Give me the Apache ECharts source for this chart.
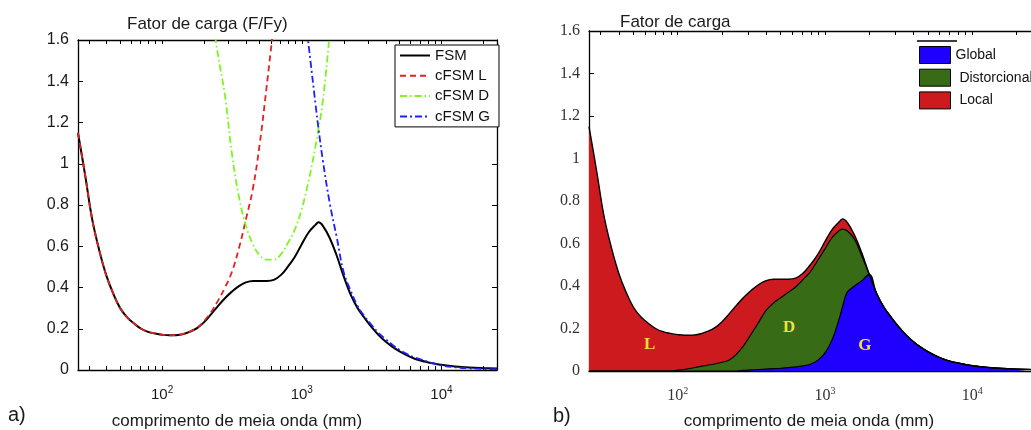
<!DOCTYPE html>
<html>
<head>
<meta charset="utf-8">
<script src="https://cdn.jsdelivr.net/npm/echarts@6/dist/echarts.min.js"></script>
<style>
  html, body { margin: 0; padding: 0; background: #fff; }
  #main { width: 1031px; height: 430px; }
</style>
</head>
<body>
<div id="main"></div>
<script>
// Half-wavelength (mm), log-spaced sample points
const halfWave = [25, 28.2, 31.6, 35.5, 39.8, 44.7, 50.1, 56.2, 63.1, 70.8, 79.4, 89.1,
  100, 112, 126, 141, 158, 178, 200, 224, 251, 282, 316, 355, 398, 447, 501, 562, 631, 708, 794, 891,
  1000, 1122, 1259, 1318, 1413, 1585, 1778, 1995, 2239, 2512, 2818, 3162, 3548, 3981, 4467, 5012, 5623, 6310, 7079, 7943, 8913,
  10000, 12589, 15849, 19953, 25000];

// FSM signature curve, load factor F/Fy
const fsm = [1.15, 0.94, 0.73, 0.58, 0.46, 0.37, 0.30, 0.255, 0.225, 0.20, 0.185, 0.177,
  0.171, 0.168, 0.169, 0.174, 0.186, 0.203, 0.232, 0.27, 0.31, 0.348, 0.38, 0.407, 0.425, 0.432, 0.432, 0.432, 0.437, 0.46, 0.50, 0.548,
  0.61, 0.668, 0.705, 0.716, 0.70, 0.64, 0.555, 0.455, 0.365, 0.30, 0.252, 0.208, 0.17, 0.138, 0.112, 0.09, 0.072, 0.057, 0.046, 0.038, 0.031,
  0.025, 0.017, 0.012, 0.009, 0.007];

// cFSM pure local mode
const cfsmL = [1.15, 0.94, 0.73, 0.58, 0.46, 0.37, 0.30, 0.255, 0.225, 0.20, 0.185, 0.177,
  0.171, 0.168, 0.169, 0.174, 0.186, 0.205, 0.238, 0.28, 0.335, 0.40, 0.475, 0.59, 0.73, 0.88, 1.10, 1.38, 1.68, null, null, null,
  null, null, null, null, null, null, null, null, null, null, null, null, null, null, null, null, null, null, null, null, null,
  null, null, null, null, null];

// cFSM pure distortional mode
const cfsmD = [null, null, null, null, null, null, null, null, null, null, null, null,
  null, null, null, null, null, null, null, 1.76, 1.53, 1.33, 1.05, 0.84, 0.70, 0.61, 0.555, 0.535, 0.535, 0.56, 0.615, 0.68,
  0.78, 0.92, 1.09, 1.17, 1.30, 1.63, 2.0, null, null, null, null, null, null, null, null, null, null, null, null, null, null,
  null, null, null, null, null];

// cFSM pure global mode
const cfsmG = [null, null, null, null, null, null, null, null, null, null, null, null,
  null, null, null, null, null, null, null, null, null, null, null, null, null, null, null, null, null, null, null, null,
  1.86, 1.57, 1.28, 1.17, 1.02, 0.81, 0.645, 0.475, 0.385, 0.31, 0.26, 0.218, 0.18, 0.15, 0.122, 0.097, 0.079, 0.063, 0.052, 0.04, 0.03,
  0.022, 0.013, 0.008, 0.005, 0.004];

// Modal participation: upper edge of the distortional band (global + distortional)
const distTop = [0, 0, 0, 0, 0, 0, 0, 0, 0, 0, 0, 0,
  0.004, 0.008, 0.014, 0.021, 0.027, 0.033, 0.041, 0.052, 0.08, 0.122, 0.175, 0.23, 0.285, 0.32, 0.345, 0.37, 0.395, 0.43, 0.467, 0.52,
  0.575, 0.63, 0.662, 0.668, 0.66, 0.62, 0.54, 0.455, 0.365, 0.30, 0.252, 0.208, 0.17, 0.138, 0.112, 0.09, 0.072, 0.057, 0.046, 0.038, 0.031,
  0.025, 0.017, 0.012, 0.009, 0.007];

// Modal participation: upper edge of the global band
const globalTop = [0, 0, 0, 0, 0, 0, 0, 0, 0, 0, 0, 0,
  0, 0, 0, 0, 0, 0, 0, 0, 0, 0.003, 0.005, 0.007, 0.009, 0.011, 0.013, 0.016, 0.019, 0.024, 0.032, 0.05,
  0.085, 0.15, 0.255, 0.305, 0.37, 0.40, 0.425, 0.455, 0.365, 0.30, 0.252, 0.208, 0.17, 0.138, 0.112, 0.09, 0.072, 0.057, 0.046, 0.038, 0.031,
  0.025, 0.017, 0.012, 0.009, 0.007];

// Axis ticks (log decades with intermediate marks) and labelled decades
const tickValues = [30, 40, 50, 60, 70, 80, 90, 100, 200, 300, 400, 500, 600, 700, 800, 900,
  1000, 2000, 3000, 4000, 5000, 6000, 7000, 8000, 9000, 10000, 20000];
const decadeLabels = [100, 1000, 10000];

const legendModes = ['FSM', 'cFSM L', 'cFSM D', 'cFSM G'];
const legendAreas = ['Global', 'Distorcional', 'Local'];

const SANS = '"Liberation Sans", Arial, sans-serif';
const SERIF = '"Liberation Serif", "Times New Roman", serif';

function pairs(vals) {
  const out = [];
  halfWave.forEach((x, i) => { if (vals[i] != null) out.push([x, vals[i]]); });
  return out;
}

function powerLabel(v) {
  return '10{s|' + Math.round(Math.log10(v)) + '}';
}

function xAxisDef(grid, pos, withLabels, withTicks, font, color, size, margin) {
  return {
    type: 'log', logBase: 10, gridIndex: grid, position: pos,
    min: 25, max: 25000,
    axisLine: { show: true, onZero: false, lineStyle: { color: '#000', width: 1.3 } },
    axisTick: { show: withTicks, inside: true, length: 4, customValues: tickValues, lineStyle: { color: '#000', width: 1 } },
    minorTick: { show: false },
    splitLine: { show: false },
    axisLabel: withLabels ? {
      show: true, customValues: decadeLabels, margin: margin,
      fontFamily: font, fontSize: size, color: color,
      formatter: powerLabel,
      rich: { s: { fontFamily: font, fontSize: 10, color: color, padding: [0, 0, 10, 0] } }
    } : { show: false }
  };
}

function yAxisDef(grid, pos, withLabels, font, color) {
  return {
    type: 'value', gridIndex: grid, position: pos,
    min: 0, max: 1.6, interval: 0.2,
    axisLine: { show: true, onZero: false, lineStyle: { color: '#000', width: 1.3 } },
    axisTick: { show: true, inside: true, length: 5, lineStyle: { color: '#000', width: 1 } },
    splitLine: { show: false },
    axisLabel: withLabels ? {
      show: true, fontFamily: font, fontSize: 16, color: color, margin: 9,
      formatter: v => (Math.abs(v) < 1e-9 ? '0' : Math.abs(v - 1) < 1e-9 ? '1' : v.toFixed(1))
    } : { show: false }
  };
}

const chart = echarts.init(document.getElementById('main'), null, { renderer: 'canvas' });

const areaLetter = (txt, x, y) => ({
  symbol: 'circle', symbolSize: 0, silent: true,
  data: [{ coord: [x, y], value: txt }],
  label: {
    show: true, position: 'inside', formatter: txt,
    fontFamily: SERIF, fontWeight: 'bold', fontSize: 17, color: '#f0e23a'
  }
});

chart.setOption({
  animation: false,
  backgroundColor: '#fff',
  title: [
    { text: 'Fator de carga (F/Fy)', left: 122, top: 11,
      textStyle: { fontFamily: SANS, fontSize: 17, fontWeight: 'normal', color: '#1a1a1a' } },
    { text: 'Fator de carga', left: 615, top: 9,
      textStyle: { fontFamily: SANS, fontSize: 17, fontWeight: 'normal', color: '#1a1a1a' } }
  ],
  grid: [
    { left: 78, top: 40, width: 419, height: 330 },
    { left: 589, top: 31, width: 444, height: 340 }
  ],
  xAxis: [
    xAxisDef(0, 'bottom', true, true, SANS, '#1a1a1a', 15, 15),
    xAxisDef(0, 'top', false, true, SANS, '#1a1a1a', 15, 15),
    xAxisDef(1, 'bottom', true, false, SERIF, '#333', 16, 15),
    xAxisDef(1, 'top', false, true, SERIF, '#333', 16, 15)
  ],
  yAxis: [
    yAxisDef(0, 'left', true, SANS, '#1a1a1a'),
    yAxisDef(0, 'right', false, SANS, '#1a1a1a'),
    yAxisDef(1, 'left', true, SERIF, '#333')
  ],
  legend: [
    {
      data: legendModes, orient: 'vertical', left: 395, top: 45,
      padding: [3, 9, 3, 4], itemWidth: 30, itemHeight: 14, itemGap: 5.3,
      borderColor: '#000', borderWidth: 1, backgroundColor: '#fff',
      selectedMode: false,
      itemStyle: { opacity: 0 },
      textStyle: { fontFamily: SANS, fontSize: 15, lineHeight: 14, color: '#111' }
    },
    {
      data: legendAreas, orient: 'vertical', left: 919, top: 46,
      padding: 0, itemWidth: 31, itemHeight: 17, itemGap: 4.7, icon: 'rect',
      selectedMode: false,
      itemStyle: { borderColor: '#000', borderWidth: 1 },
      formatter: n => (n === 'Global' ? n : ' ' + n),
      textStyle: { fontFamily: SANS, fontSize: 14, color: '#111' }
    }
  ],
  series: [
    // (a) signature curve and pure-mode curves
    { name: 'FSM', type: 'line', xAxisIndex: 0, yAxisIndex: 0, data: pairs(fsm),
      symbol: 'none', smooth: 0.4, color: '#000', lineStyle: { color: '#000', width: 2 } },
    { name: 'cFSM L', type: 'line', xAxisIndex: 0, yAxisIndex: 0, data: pairs(cfsmL),
      symbol: 'none', smooth: 0.4, color: '#e2211c', lineStyle: { color: '#e2211c', width: 1.8, type: [6, 4] } },
    { name: 'cFSM D', type: 'line', xAxisIndex: 0, yAxisIndex: 0, data: pairs(cfsmD),
      symbol: 'none', smooth: 0.4, color: '#7df51f', lineStyle: { color: '#7df51f', width: 1.8, type: [7, 3, 1.5, 3] } },
    { name: 'cFSM G', type: 'line', xAxisIndex: 0, yAxisIndex: 0, data: pairs(cfsmG),
      symbol: 'none', smooth: 0.4, color: '#1f1fff', lineStyle: { color: '#1f1fff', width: 1.8, type: [7, 3, 2, 3] } },

    // (b) modal participation areas
    { name: 'Local', type: 'line', xAxisIndex: 2, yAxisIndex: 2, data: pairs(fsm),
      symbol: 'none', smooth: 0.4, color: '#cc1a1f',
      lineStyle: { color: '#000', width: 1.4 }, areaStyle: { color: '#cc1a1f', opacity: 1 },
      markPoint: areaLetter('L', 64.6, 0.126) },
    { name: 'Distorcional', type: 'line', xAxisIndex: 2, yAxisIndex: 2, data: pairs(distTop),
      symbol: 'none', smooth: 0.4, color: '#376b16',
      lineStyle: { color: '#000', width: 1.2 }, areaStyle: { color: '#376b16', opacity: 1 },
      markPoint: areaLetter('D', 570, 0.206) },
    { name: 'Global', type: 'line', xAxisIndex: 2, yAxisIndex: 2, data: pairs(globalTop),
      symbol: 'none', smooth: 0.4, color: '#1f00ff',
      lineStyle: { color: '#000', width: 1.2 }, areaStyle: { color: '#1f00ff', opacity: 1 },
      markPoint: areaLetter('G', 1862, 0.121) }
  ],
  graphic: [
    { type: 'text', x: 237, y: 421, style: { text: 'comprimento de meia onda (mm)', fontFamily: SANS, fontSize: 17,
      fill: '#1a1a1a', textAlign: 'center', textVerticalAlign: 'middle' } },
    { type: 'text', x: 809, y: 421, style: { text: 'comprimento de meia onda (mm)', fontFamily: SANS, fontSize: 17,
      fill: '#1a1a1a', textAlign: 'center', textVerticalAlign: 'middle' } },
    { type: 'text', x: 8, y: 415, style: { text: 'a)', fontFamily: SANS, fontSize: 20,
      fill: '#1a1a1a', textAlign: 'left', textVerticalAlign: 'middle' } },
    { type: 'text', x: 553, y: 416, style: { text: 'b)', fontFamily: SANS, fontSize: 20,
      fill: '#1a1a1a', textAlign: 'left', textVerticalAlign: 'middle' } },
    { type: 'line', shape: { x1: 917, y1: 41, x2: 957, y2: 41 }, style: { stroke: '#000', lineWidth: 1.3 } }
  ]
});
</script>
</body>
</html>
